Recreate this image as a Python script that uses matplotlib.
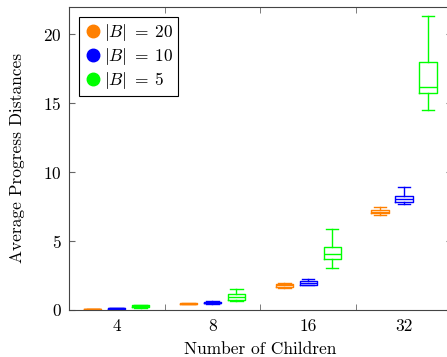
import matplotlib.pyplot as plt
from matplotlib.lines import Line2D

plt.rcParams['font.family'] = 'serif'
plt.rcParams['font.serif'] = ['cmr10', 'DejaVu Serif']
plt.rcParams['mathtext.fontset'] = 'cm'
plt.rcParams['axes.formatter.use_mathtext'] = True

# Data: whislo, q1, med, q3, whishi per group
children = ['4', '8', '16', '32']
labels = [r'$|B|\;=\;20$', r'$|B|\;=\;10$', r'$|B|\;=\;5$']
colors = ['#ff8000', '#0000ff', '#00ff00']

b20 = [(0.03, 0.04, 0.05, 0.06, 0.07),
       (0.42, 0.44, 0.46, 0.48, 0.50),
       (1.60, 1.68, 1.78, 1.88, 1.98),
       (6.90, 7.00, 7.12, 7.25, 7.44)]
b10 = [(0.06, 0.08, 0.10, 0.12, 0.14),
       (0.43, 0.47, 0.53, 0.58, 0.62),
       (1.79, 1.84, 1.98, 2.10, 2.22),
       (7.65, 7.80, 8.04, 8.26, 8.91)]
b5 = [(0.15, 0.20, 0.26, 0.32, 0.36),
      (0.65, 0.74, 0.92, 1.14, 1.50),
      (3.02, 3.67, 4.08, 4.54, 5.84),
      (14.54, 15.77, 16.20, 17.97, 21.30)]
series = [b20, b10, b5]

fig = plt.figure(figsize=(4.47, 3.57), dpi=100)
ax = fig.add_axes([0.154, 0.132, 0.857, 0.849])

offsets = [0.25, 0.5, 0.75]
for s, data in enumerate(series):
    stats = []
    for d in data:
        stats.append({'whislo': d[0], 'q1': d[1], 'med': d[2], 'q3': d[3], 'whishi': d[4], 'fliers': []})
    pos = [i + offsets[s] for i in range(len(children))]
    c = colors[s]
    ax.bxp(stats, positions=pos, widths=0.18, showfliers=False,
           boxprops=dict(color=c, lw=1), medianprops=dict(color=c, lw=1),
           whiskerprops=dict(color=c, lw=1), capprops=dict(color=c, lw=1),
           capwidths=0.13, manage_ticks=False)

ax.set_xlim(0, 4)
ax.set_ylim(0, 22)
ax.set_yticks([0, 5, 10, 15, 20])
ax.set_xticks([0.5, 1.5, 2.5, 3.5])
ax.set_xticklabels(children)
ax.set_xticks([1, 2, 3], minor=True)
ax.tick_params(axis='x', which='major', length=0, labelsize=12.5, pad=6)
ax.tick_params(axis='x', which='minor', direction='in', length=4, top=True, color='#666666')
ax.tick_params(axis='y', direction='in', length=4, right=True, labelsize=12.5, color='#666666', pad=5)
for sp in ax.spines.values():
    sp.set_color('#444444')

ax.set_xlabel('Number of Children', fontsize=12.5, labelpad=6)
ax.set_ylabel('Average Progress Distances', fontsize=12.5, labelpad=13)

handles = [Line2D([], [], ls='', marker='o', color=c, markersize=9) for c in colors]
leg = ax.legend(handles, labels, loc='upper left', fontsize=12.5, frameon=True, fancybox=False,
                edgecolor='black', framealpha=1, handletextpad=0.1, borderaxespad=0.6,
                handlelength=1.0, borderpad=0.3, labelspacing=0.15)
leg.get_frame().set_linewidth(0.8)

fig.savefig('out.png', dpi=100)
